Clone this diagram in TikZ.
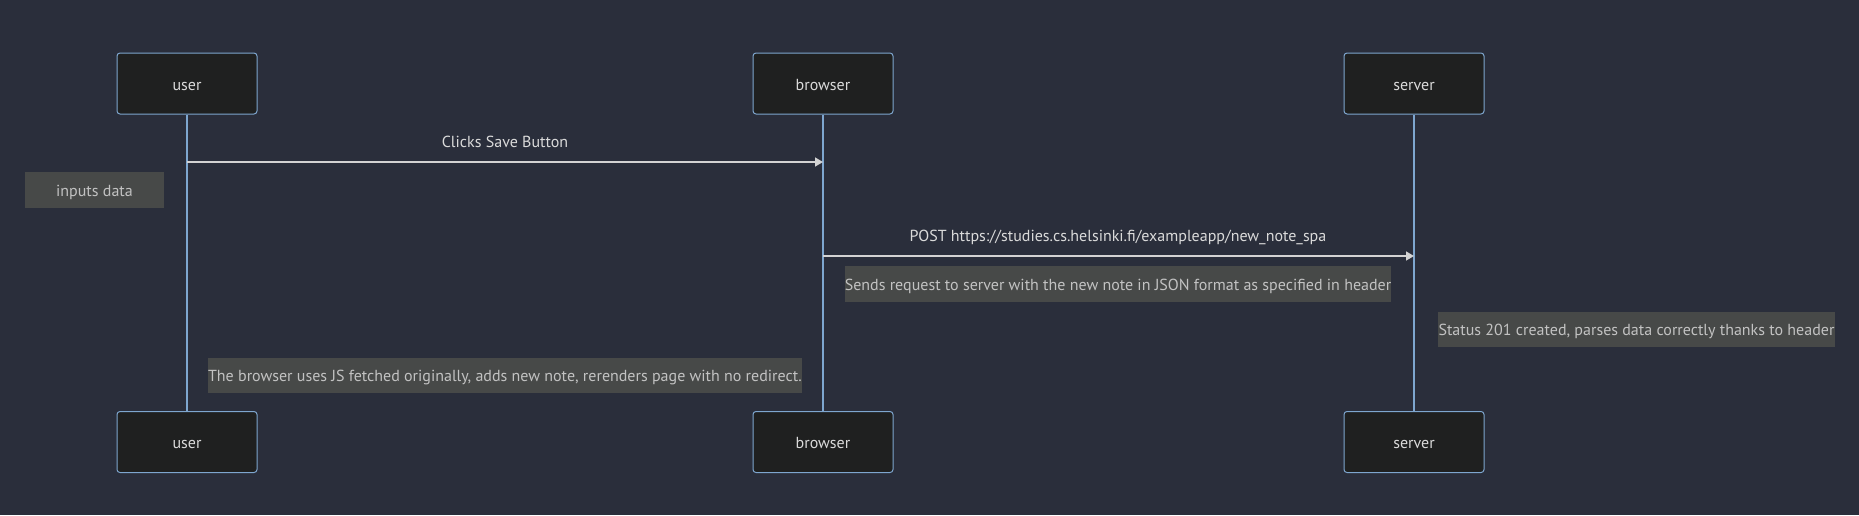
\documentclass[tikz,border=0pt]{standalone}
\usepackage{fontspec}
\setmainfont{PT Sans}
\usetikzlibrary{arrows.meta}
\definecolor{bg}{HTML}{2A2E3B}
\definecolor{actf}{HTML}{1F2020}
\definecolor{actb}{HTML}{7EA6CF}
\definecolor{lifec}{HTML}{7EA6CF}
\definecolor{txt}{HTML}{DADADA}
\definecolor{notef}{HTML}{474948}
\definecolor{notet}{HTML}{C2C2C2}
\definecolor{msgc}{HTML}{D3D3D3}
\begin{document}
\begin{tikzpicture}[x=1pt,y=-1pt,
  actor/.style={draw=actb, fill=actf, rounded corners=3pt, minimum width=140pt, minimum height=61pt, line width=1pt, text=txt, inner sep=0pt, font=\fontsize{16}{19}\selectfont, text height=13pt, text depth=0pt},
  lifeline/.style={draw=lifec, line width=1.5pt},
  msg/.style={draw=msgc, line width=1.5pt, -{Triangle[length=8pt,width=9pt]}},
  msglabel/.style={text=txt, inner sep=0pt, font=\fontsize{16}{19}\selectfont, text height=12pt, text depth=0pt},
  note/.style={fill=notef, text=notet, inner sep=0pt, font=\fontsize{16}{19}\selectfont, text height=12.4pt, text depth=0pt},
]
\fill[bg] (0,0) rectangle (1859,515);
\useasboundingbox (0,0) rectangle (1859,515);

% actors
\node[actor] (ut) at (187,83.5) {user};
\node[actor] (bt) at (823,83.5) {browser};
\node[actor] (st) at (1414,83.5) {server};
\node[actor] (ub) at (187,442) {user};
\node[actor] (bb) at (823,442) {browser};
\node[actor] (sb) at (1414,442) {server};

% lifelines
\draw[lifeline] (ut) -- (ub);
\draw[lifeline] (bt) -- (bb);
\draw[lifeline] (st) -- (sb);

% messages
\coordinate (m1s) at (187,162);
\coordinate (m1e) at (823,162);
\draw[msg] (m1s) -- (m1e);
\node[msglabel] (l1) at (505,141.5) {Clicks Save Button};

\coordinate (m2s) at (823,256);
\coordinate (m2e) at (1414,256);
\draw[msg] (m2s) -- (m2e);
\node[msglabel] (l2) at (1118,235.5) {POST https://studies.cs.helsinki.fi/exampleapp/new\_note\_spa};

% notes
\node[note, minimum width=139pt, minimum height=36pt] (n1) at (94.5,190) {inputs data};
\node[note, minimum width=544pt, minimum height=36pt] (n2) at (1118,284) {Sends request to server with the new note in JSON format as specified in header};
\node[note, minimum width=397pt, minimum height=35pt] (n3) at (1636.5,329.5) {Status 201 created, parses data correctly thanks to header};
\node[note, minimum width=588pt, minimum height=35pt] (n4) at (505,375.5) {The browser uses JS fetched originally, adds new note, rerenders page with no redirect.};
\end{tikzpicture}
\end{document}
